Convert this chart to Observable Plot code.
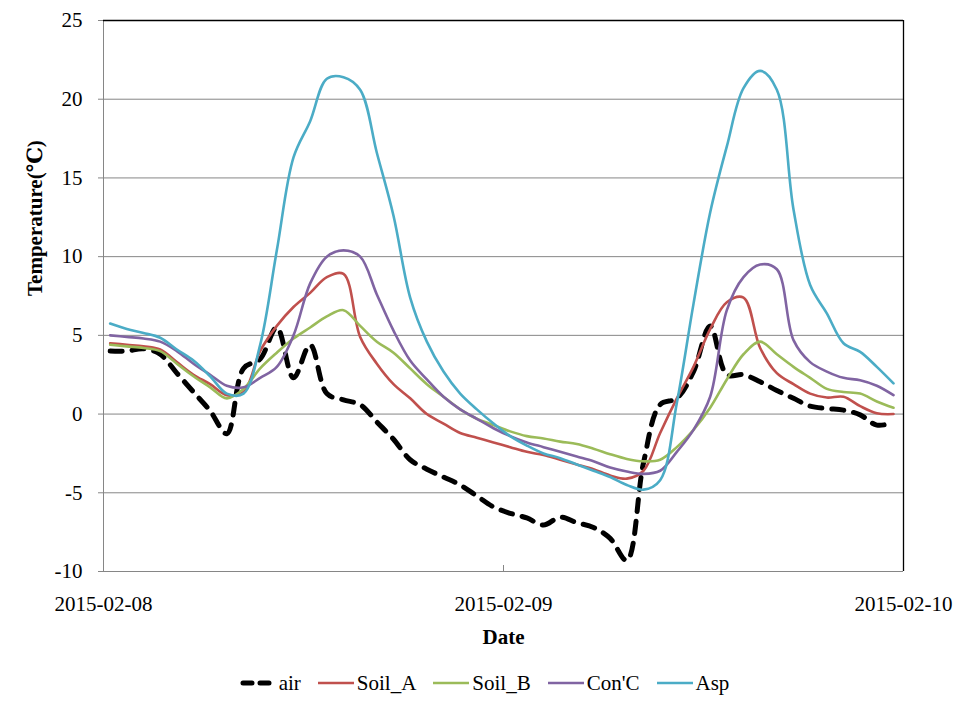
<!DOCTYPE html>
<html>
<head>
<meta charset="utf-8">
<script src="https://cdn.jsdelivr.net/npm/d3@7"></script>
<script src="https://cdn.jsdelivr.net/npm/@observablehq/plot@0.6"></script>
<style>
  body { margin: 0; background: #fff; font-family: "Liberation Serif", "Times New Roman", Times, "DejaVu Serif", serif; }
  #chart svg { display: block; }
  #legend { display: flex; justify-content: center; align-items: center; height: 50px; padding-top: 6px; box-sizing: border-box; font-size: 21px; color: #000; font-family: "Liberation Serif", "Times New Roman", Times, "DejaVu Serif", serif; }
  .item { display: flex; align-items: center; margin: 0 8px; }
  .item svg { margin-right: 2px; }
</style>
</head>
<body>
<div id="chart"></div>
<div id="legend"></div>
<script>
// ---- data (hourly readings, first reading ~00:24 on 2015-02-08) ----
const startDate = "2015-02-08";
const endDate = "2015-02-10";
const xTickDates = ["2015-02-08", "2015-02-09", "2015-02-10"];
const yTicks = [-10, -5, 0, 5, 10, 15, 20, 25];
const gridValues = [-5, 0, 5, 10, 15, 20];
const firstReadingHour = 0.4;

const air = [4.0, 4.0, 4.15, 3.8, 2.6, 1.4, 0.2, -1.25, 2.9, 3.5,
  5.5, 2.3, 4.4, 1.3, 0.9, 0.6, -0.5, -1.6, -2.9, -3.5,
  -4.0, -4.5, -5.2, -5.9, -6.3, -6.6, -7.05, -6.55, -6.9, -7.2,
  -7.9, -9.3, -3.1, 0.6, 1.0, 2.7, 5.6, 2.5, 2.5, 2.05,
  1.5, 1.0, 0.5, 0.35, 0.25, -0.05, -0.7, -0.55];

const soilA = [4.5, 4.4, 4.3, 4.1, 3.3, 2.5, 1.9, 1.2, 1.4, 4.0,
  5.6, 6.8, 7.7, 8.7, 8.9, 4.9, 3.2, 1.9, 1.0, 0.0,
  -0.6, -1.2, -1.5, -1.8, -2.1, -2.4, -2.6, -2.9, -3.2, -3.5,
  -3.9, -4.1, -3.6, -1.2, 1.0, 3.0, 5.4, 7.1, 7.4, 4.2,
  2.6, 1.9, 1.3, 1.05, 1.1, 0.5, 0.05, 0.0];

const soilB = [4.4, 4.3, 4.2, 4.0, 3.2, 2.4, 1.7, 1.0, 1.6, 2.9,
  3.9, 4.8, 5.5, 6.2, 6.6, 5.6, 4.6, 3.9, 2.9, 1.9,
  1.1, 0.3, -0.3, -0.7, -1.1, -1.4, -1.55, -1.75, -1.9, -2.2,
  -2.55, -2.85, -3.0, -2.9, -2.1, -1.0, 0.4, 2.2, 3.8, 4.6,
  3.8, 3.0, 2.3, 1.6, 1.4, 1.3, 0.8, 0.4];

const conC = [5.0, 4.9, 4.8, 4.6, 4.0, 3.2, 2.5, 1.8, 1.7, 2.3,
  3.0, 5.0, 8.3, 10.0, 10.4, 10.0, 7.6, 5.3, 3.4, 2.2,
  1.1, 0.3, -0.3, -0.9, -1.4, -1.8, -2.1, -2.4, -2.7, -3.0,
  -3.4, -3.65, -3.8, -3.6, -2.4, -1.0, 1.1, 6.6, 8.7, 9.5,
  9.2, 4.7, 3.3, 2.7, 2.3, 2.15, 1.8, 1.2];

const asp = [5.75, 5.4, 5.15, 4.85, 4.1, 3.4, 2.4, 1.3, 1.3, 4.4,
  10.4, 16.3, 18.6, 21.3, 21.4, 20.6, 16.6, 12.6, 7.4, 4.6,
  2.7, 1.3, 0.3, -0.6, -1.4, -2.0, -2.5, -2.8, -3.2, -3.6,
  -4.0, -4.5, -4.8, -4.2, 0.7, 7.0, 12.8, 17.0, 20.7, 21.8,
  20.6, 13.0, 8.2, 6.4, 4.5, 3.95, 3.0, 1.95];

const seriesNames = ["air", "Soil_A", "Soil_B", "Con'C", "Asp"];
const seriesValues = [air, soilA, soilB, conC, asp];
const seriesColors = ["#000000", "#C0504D", "#9BBB59", "#8064A2", "#4BACC6"];

// ---- build table ----
const t0 = new Date(startDate + "T00:00:00Z").getTime();
const rows = [];
seriesNames.forEach((name, s) => {
  seriesValues[s].forEach((v, i) => {
    rows.push({series: name, time: new Date(t0 + (i + firstReadingHour) * 3600000), value: v});
  });
});
const toDate = (s) => new Date(s + "T00:00:00Z");
const xStart = toDate(startDate), xEnd = toDate(endDate);
const xTicks = xTickDates.map(toDate);
const midTick = xTicks.slice(1, -1);

const colored = rows.filter(d => d.series !== "air");
const airRows = rows.filter(d => d.series === "air");
const serif = "Liberation Serif, Times New Roman, Times, DejaVu Serif, serif";

const chart = Plot.plot({
  width: 968,
  height: 655,
  marginTop: 20,
  marginRight: 65,
  marginBottom: 84,
  marginLeft: 103,
  style: {fontFamily: serif, fontSize: "21px", color: "#000", background: "#fff"},
  x: {type: "utc", domain: [xStart, xEnd], label: null},
  y: {domain: [-10, 25], label: null},
  color: {domain: seriesNames, range: seriesColors},
  marks: [
    Plot.ruleY(gridValues, {stroke: "#868686", strokeWidth: 1}),
    Plot.ruleY([-10], {stroke: "#868686", strokeWidth: 1}),
    Plot.ruleX([xStart], {stroke: "#868686", strokeWidth: 1}),
    Plot.ruleY([25], {stroke: "#000", strokeWidth: 1.3}),
    Plot.ruleX([xEnd], {stroke: "#000", strokeWidth: 1.3}),
    Plot.axisY({ticks: yTicks, tickSize: 5, tickPadding: 16, tickFormat: d => String(d), stroke: "#868686", fill: "#000", fontSize: 21, fontFamily: serif, label: null}),
    Plot.axisX({ticks: xTicks, tickSize: 0, tickPadding: 25, tickFormat: d3.utcFormat("%Y-%m-%d"), fill: "#000", fontSize: 21, fontFamily: serif, label: null}),
    Plot.axisX({ticks: midTick, tickSize: -6, tickFormat: () => "", stroke: "#868686", label: null}),
    Plot.line(airRows, {x: "time", y: "value", stroke: "#000", strokeWidth: 5, strokeDasharray: "12,10", strokeLinecap: "round", curve: "catmull-rom"}),
    Plot.line(colored, {x: "time", y: "value", z: "series", stroke: "series", strokeWidth: 2.6, curve: "catmull-rom"}),
    Plot.text(["Temperature(\u2103)"], {frameAnchor: "left", dx: -68, rotate: -90, fontWeight: "bold", fontSize: 21, fontFamily: serif}),
    Plot.text(["Date"], {frameAnchor: "bottom", dy: 72, fontWeight: "bold", fontSize: 21, fontFamily: serif})
  ]
});
document.getElementById("chart").appendChild(chart);

// ---- legend ----
const legend = d3.select("#legend");
seriesNames.forEach((name, s) => {
  const item = legend.append("div").attr("class", "item");
  const sw = item.append("svg").attr("width", 38).attr("height", 12);
  if (name === "air") {
    sw.append("line").attr("x1", 4).attr("x2", 34).attr("y1", 6).attr("y2", 6)
      .attr("stroke", "#000").attr("stroke-width", 5).attr("stroke-linecap", "round")
      .attr("stroke-dasharray", "9,8");
  } else {
    sw.append("line").attr("x1", 1).attr("x2", 37).attr("y1", 6).attr("y2", 6)
      .attr("stroke", seriesColors[s]).attr("stroke-width", 2.6);
  }
  item.append("span").text(name);
});
</script>
</body>
</html>
